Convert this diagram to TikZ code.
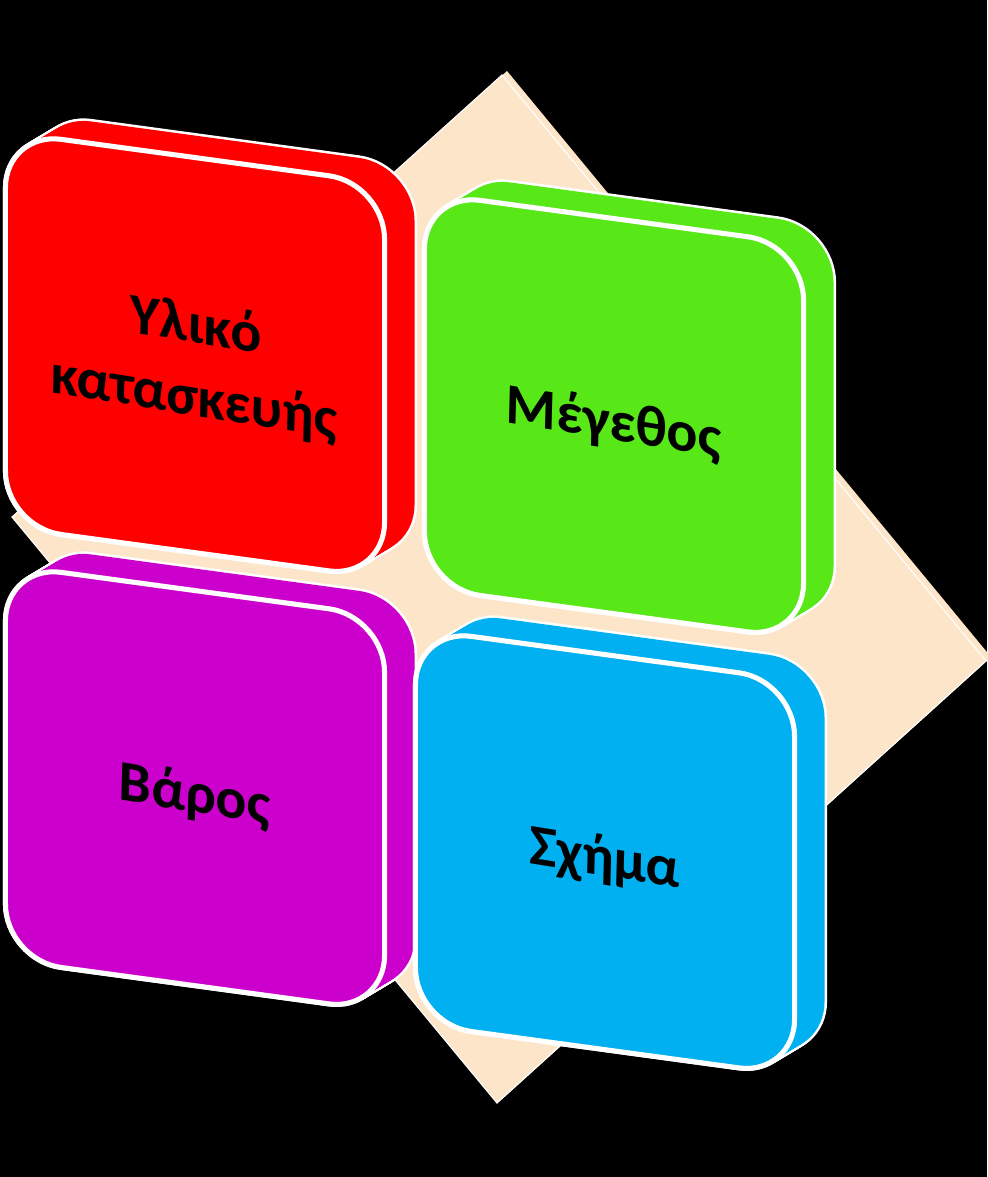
\documentclass[tikz,border=0pt]{standalone}
\usepackage{fontspec}
\setmainfont{Carlito}
\usetikzlibrary{positioning}

\definecolor{peach}{RGB}{253,229,202}
\definecolor{boxred}{RGB}{255,0,0}
\definecolor{boxgreen}{RGB}{88,232,24}
\definecolor{boxpurple}{RGB}{204,0,204}
\definecolor{boxblue}{RGB}{0,176,240}

\begin{document}
\begin{tikzpicture}[
            x=0.025cm, y=-0.025cm,
            face/.style={rectangle, rounded corners=1.4cm, minimum width=9.475cm, minimum height=9.875cm, inner sep=0pt, transform shape},
            rim/.style={face, draw=white, fill=white, line width=3.6pt},
            body/.style={face, fill=#1},
            front/.style={face, fill=#1, draw=white, line width=3.6pt},
            caption/.style={align=center, inner sep=0pt, transform shape, rotate=-1.5, font=\fontsize{41}{52}\selectfont\bfseries},
        ]
            \def\slant{-0.136}
            \def\dx{30}
            \def\dy{22}
            % black page
            \useasboundingbox (0,0) rectangle (987,1177);
            \fill[black] (0,0) rectangle (987,1177);

            % Draw the diamond behind the boxes
            \coordinate (D-top) at (502,75);
            \coordinate (D-right) at (986,661);
            \coordinate (D-bottom) at (497,1103);
            \coordinate (D-left) at (12,517);
            \fill[peach] ([shift={(5,-4)}]D-top) -- ([shift={(5,-4)}]D-right) -- ([shift={(5,-4)}]D-bottom) -- ([shift={(5,-4)}]D-left) -- cycle;
            \draw[white, line width=0.8pt, fill=peach] (D-top) -- (D-right) -- (D-bottom) -- (D-left) -- cycle;

            % Draw the four boxes: depth first, then the front face
            \foreach \name/\col/\x/\y/\txt in {
                    material/boxred/3/129/{Υλικό\\κατασκευής},
                    size/boxgreen/422/190/{Μέγεθος},
                    weight/boxpurple/3/562/{Βάρος},
                    form/boxblue/413/626/{Σχήμα}} {
                \begin{scope}[shift={(\x,\y)}, yslant=\slant]
                    \foreach \t in {0,...,20}
                        \node[rim] at (192+\t*\dx/20, 200-\t*\dy/20) {};
                    \foreach \t in {0,...,20}
                        \node[body=\col] at (192+\t*\dx/20, 200-\t*\dy/20) {};
                    \node[front=\col] (\name) at (192,200) {};
                    \node[caption] (\name-text) at (192,208) {\txt};
                \end{scope}
            }
        \end{tikzpicture}
\end{document}
